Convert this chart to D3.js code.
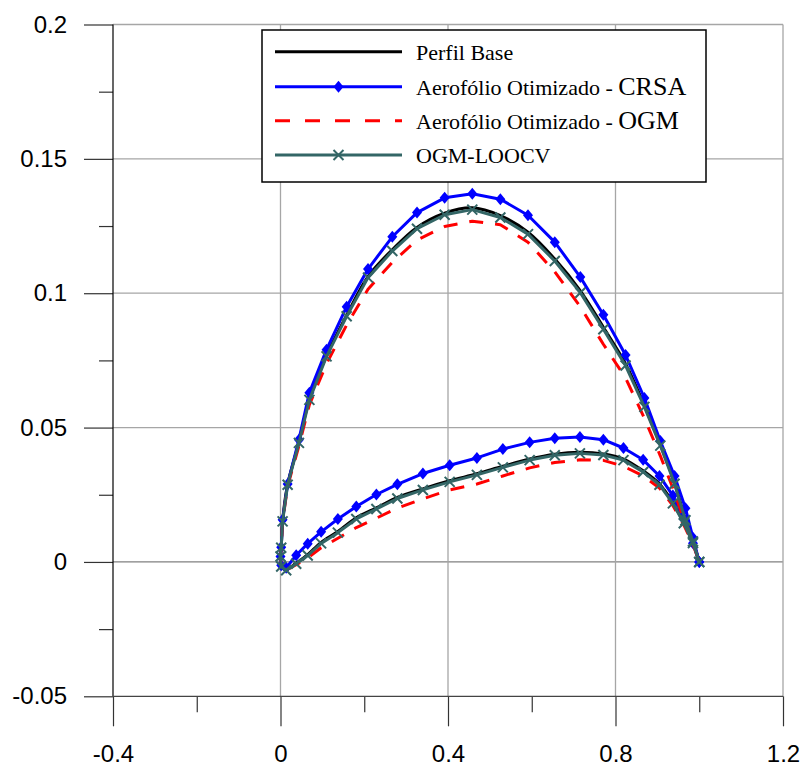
<!DOCTYPE html>
<html>
<head>
<meta charset="utf-8">
<script src="https://cdn.jsdelivr.net/npm/d3@7"></script>
<style>
  body { margin: 0; background: #fff; }
  svg { display: block; }
</style>
</head>
<body>
<svg id="chart" width="801" height="766"></svg>
<script>
// Chord stations: upper surface from trailing edge to leading edge, lower from leading edge back
const xUpper = [1.0, 0.985, 0.967, 0.941, 0.907, 0.869, 0.824, 0.771, 0.716, 0.655, 0.591, 0.525,
                0.458, 0.392, 0.326, 0.267, 0.209, 0.158, 0.110, 0.069, 0.044, 0.017, 0.005, 0.0017, 0.0];
const xLower = [0.0017, 0.0136, 0.0375, 0.065, 0.097, 0.137, 0.181, 0.229, 0.279, 0.340, 0.404,
                0.469, 0.531, 0.595, 0.655, 0.715, 0.771, 0.819, 0.866, 0.905, 0.937, 0.963, 0.985, 1.0];

// Perfil Base
const baseUpper = [0.0, 0.0077, 0.0157, 0.0294, 0.0437, 0.0582, 0.0737, 0.0873, 0.1009, 0.1127, 0.1227, 0.1289,
                   0.1318, 0.1298, 0.1245, 0.1162, 0.1062, 0.0918, 0.0768, 0.0605, 0.0445, 0.0288, 0.0151, 0.0053, 0.0020];
const baseLower = [-0.0016, -0.0029, -0.0004, 0.0027, 0.0073, 0.0113, 0.0164, 0.0201, 0.0240, 0.0272, 0.0302,
                   0.0328, 0.0356, 0.0383, 0.0401, 0.0408, 0.0402, 0.0383, 0.0339, 0.0290, 0.0221, 0.0146, 0.0071, 0.0];

// Aerofólio Otimizado - CRSA
const crsaUpper = [0.0, 0.0090, 0.0200, 0.0320, 0.0450, 0.0610, 0.0770, 0.0920, 0.1060, 0.1190, 0.1290, 0.1350,
                   0.1370, 0.1355, 0.1300, 0.1210, 0.1090, 0.0950, 0.0790, 0.0630, 0.0455, 0.0290, 0.0157, 0.0055, 0.0020];
const crsaLower = [-0.0012, -0.0022, 0.0025, 0.0068, 0.0112, 0.0160, 0.0206, 0.0251, 0.0289, 0.0329, 0.0360,
                   0.0387, 0.0420, 0.0445, 0.0460, 0.0465, 0.0455, 0.0424, 0.0380, 0.0320, 0.0247, 0.0160, 0.0070, 0.0];

// Aerofólio Otimizado - OGM
const ogmUpper = [0.0, 0.0068, 0.0138, 0.0258, 0.0395, 0.0535, 0.0685, 0.0810, 0.0950, 0.1080, 0.1190, 0.1255,
                  0.1268, 0.1248, 0.1198, 0.1115, 0.1015, 0.0882, 0.0738, 0.0585, 0.0432, 0.0282, 0.0150, 0.0053, 0.0020];
const ogmLower = [-0.0016, -0.0030, -0.0010, 0.0015, 0.0053, 0.0088, 0.0128, 0.0163, 0.0200, 0.0235, 0.0268,
                  0.0290, 0.0320, 0.0350, 0.0370, 0.0380, 0.0378, 0.0356, 0.0320, 0.0275, 0.0210, 0.0138, 0.0065, 0.0];

// OGM-LOOCV
const loocvUpper = [0.0, 0.0076, 0.0155, 0.0291, 0.0433, 0.0577, 0.0731, 0.0866, 0.1002, 0.1120, 0.1220, 0.1282,
                    0.1311, 0.1292, 0.1240, 0.1157, 0.1058, 0.0914, 0.0765, 0.0603, 0.0443, 0.0287, 0.0151, 0.0053, 0.0020];
const loocvLower = [-0.0017, -0.0031, -0.0007, 0.0024, 0.0069, 0.0109, 0.0160, 0.0197, 0.0236, 0.0268, 0.0298,
                    0.0324, 0.0352, 0.0379, 0.0397, 0.0404, 0.0398, 0.0379, 0.0335, 0.0287, 0.0218, 0.0144, 0.0070, 0.0];

const xTickValues = [-0.4, 0, 0.4, 0.8, 1.2];
const xTickLabels = ["-0.4", "0", "0.4", "0.8", "1.2"];
const xMinorTicks = [-0.2, 0.2, 0.6, 1.0];
const yTickValues = [-0.05, 0, 0.05, 0.1, 0.15, 0.2];
const yTickLabels = ["-0.05", "0", "0.05", "0.1", "0.15", "0.2"];
const yMinorTicks = [-0.025, 0.025, 0.075, 0.125, 0.175];

const legendMain = ["Perfil Base", "Aerofólio Otimizado - ", "Aerofólio Otimizado - ", "OGM-LOOCV"];
const legendSuffix = ["", "CRSA", "OGM", ""];

const svg = d3.select("#chart");
const x = d3.scaleLinear().domain([-0.4, 1.2]).range([113, 783]);
const y = d3.scaleLinear().domain([-0.05, 0.2]).range([696.3, 24.5]);

// Gridlines
const grid = svg.append("g");
grid.selectAll("line.h").data([0.05, 0.1, 0.15, 0.2]).join("line")
  .attr("x1", x(-0.4)).attr("x2", x(1.2))
  .attr("y1", d => y(d)).attr("y2", d => y(d))
  .attr("stroke", "#a6a6a6").attr("stroke-width", 1.3);
grid.append("line")
  .attr("x1", x(-0.4)).attr("x2", x(1.2))
  .attr("y1", y(0)).attr("y2", y(0))
  .attr("stroke", "#808080").attr("stroke-width", 1.3);
grid.selectAll("line.v").data([0, 0.4, 0.8, 1.2]).join("line")
  .attr("x1", d => x(d)).attr("x2", d => x(d))
  .attr("y1", y(0.2)).attr("y2", y(-0.05))
  .attr("stroke", "#a6a6a6").attr("stroke-width", 1.3);

// Axes
const yAxis = d3.axisLeft(y).tickValues(yTickValues)
  .tickFormat((d, i) => yTickLabels[i]).tickSize(29).tickPadding(17);
const yAxisMinor = d3.axisLeft(y).tickValues(yMinorTicks).tickFormat("").tickSize(14);
const xAxis = d3.axisBottom(x).tickValues(xTickValues)
  .tickFormat((d, i) => xTickLabels[i]).tickSize(30).tickPadding(19);
const xAxisMinor = d3.axisBottom(x).tickValues(xMinorTicks).tickFormat("").tickSize(16);

function styleAxis(g) {
  g.select(".domain").remove();
  g.selectAll(".tick line").attr("stroke", "#333").attr("stroke-width", 1.2);
  g.selectAll(".tick text")
    .attr("font-family", "'Liberation Sans', Arial, sans-serif")
    .attr("font-size", 24).attr("fill", "#000");
}
svg.append("g").attr("transform", `translate(${x(-0.4)},0)`).call(yAxis).call(styleAxis);
svg.append("g").attr("transform", `translate(${x(-0.4)},0)`).call(yAxisMinor).call(styleAxis);
svg.append("g").attr("transform", `translate(0,${y(-0.05)})`).call(xAxis).call(styleAxis);
svg.append("g").attr("transform", `translate(0,${y(-0.05)})`).call(xAxisMinor).call(styleAxis);

svg.append("line").attr("x1", x(-0.4)).attr("x2", x(-0.4)).attr("y1", y(0.2)).attr("y2", y(-0.05))
  .attr("stroke", "#000").attr("stroke-width", 1.2);
svg.append("line").attr("x1", x(-0.4)).attr("x2", x(1.2)).attr("y1", y(-0.05)).attr("y2", y(-0.05))
  .attr("stroke", "#444").attr("stroke-width", 1.2);

// Profiles
function profile(upper, lower) {
  return xUpper.map((xv, i) => [xv, upper[i]]).concat(xLower.map((xv, i) => [xv, lower[i]]));
}
const series = [
  { pts: profile(baseUpper, baseLower), color: "#000000", dash: null, marker: null, curve: d3.curveCatmullRom },
  { pts: profile(crsaUpper, crsaLower), color: "#0000ff", dash: null, marker: "diamond", curve: d3.curveLinear },
  { pts: profile(ogmUpper, ogmLower), color: "#ff0000", dash: "14,12", marker: null, curve: d3.curveLinear },
  { pts: profile(loocvUpper, loocvLower), color: "#336666", dash: null, marker: "cross", curve: d3.curveLinear }
];

const diamond = "M0,-6L5,0L0,6L-5,0Z";
const cross = "M-5,-5L5,5M-5,5L5,-5";

const plot = svg.append("g");
series.forEach(s => {
  const line = d3.line().x(d => x(d[0])).y(d => y(d[1])).curve(s.curve);
  plot.append("path").attr("d", line(s.pts))
    .attr("fill", "none").attr("stroke", s.color).attr("stroke-width", 3)
    .attr("stroke-linejoin", "round")
    .attr("stroke-dasharray", s.dash);
  if (s.marker === "diamond") {
    plot.append("g").selectAll("path").data(s.pts).join("path")
      .attr("transform", d => `translate(${x(d[0])},${y(d[1])})`)
      .attr("d", diamond).attr("fill", s.color);
  } else if (s.marker === "cross") {
    plot.append("g").selectAll("path").data(s.pts).join("path")
      .attr("transform", d => `translate(${x(d[0])},${y(d[1])})`)
      .attr("d", cross).attr("stroke", s.color).attr("stroke-width", 2).attr("fill", "none");
  }
});

// Legend
const lg = svg.append("g");
lg.append("rect").attr("x", 262).attr("y", 30).attr("width", 444).attr("height", 152)
  .attr("fill", "#fff").attr("stroke", "#000").attr("stroke-width", 1.5);
const rowY = [51.7, 86.7, 120.7, 155];
series.forEach((s, i) => {
  const ry = rowY[i];
  lg.append("line").attr("x1", 275).attr("x2", 402).attr("y1", ry).attr("y2", ry)
    .attr("stroke", s.color).attr("stroke-width", 3)
    .attr("stroke-dasharray", s.dash ? "15,15" : null);
  if (s.marker === "diamond") {
    lg.append("path").attr("transform", `translate(338.5,${ry})`).attr("d", diamond).attr("fill", s.color);
  } else if (s.marker === "cross") {
    lg.append("path").attr("transform", `translate(338.5,${ry})`).attr("d", cross)
      .attr("stroke", s.color).attr("stroke-width", 2);
  }
  const t = lg.append("text").attr("x", 416).attr("y", ry + 8)
    .attr("font-family", "'Liberation Serif', 'Times New Roman', serif")
    .attr("font-size", 22).attr("fill", "#000");
  t.append("tspan").text(legendMain[i]);
  if (legendSuffix[i]) t.append("tspan").attr("font-size", 26).text(legendSuffix[i]);
});
</script>
</body>
</html>
